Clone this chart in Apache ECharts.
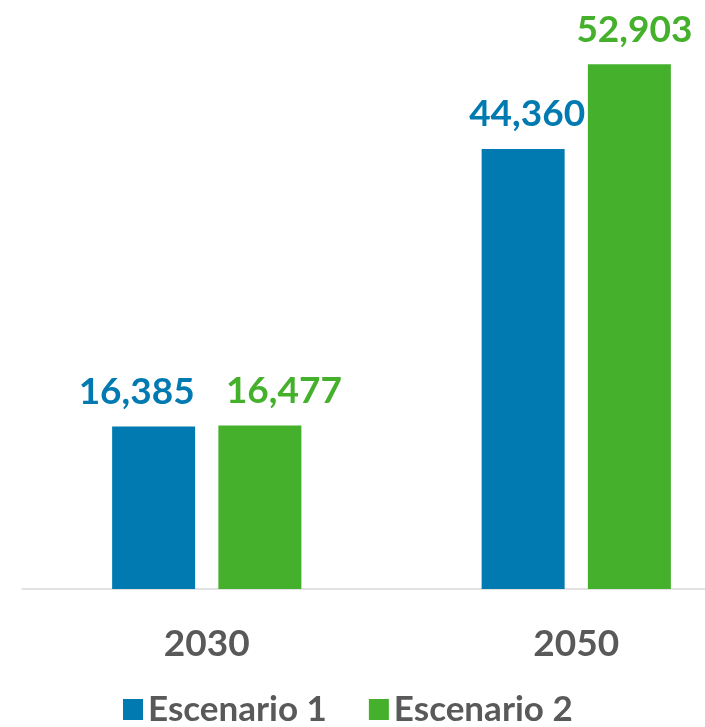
<!DOCTYPE html>
<html>
<head>
<meta charset="utf-8">
<script src="https://cdn.jsdelivr.net/npm/echarts@6/dist/echarts.min.js"></script>
<style>
    html, body { margin: 0; padding: 0; background: #fff; }
    #chart { width: 705px; height: 727px; }
</style>
</head>
<body>
<div id="chart"></div>
<script>
    var years = ['2030', '2050'];
    var seriesNames = ['Escenario 1', 'Escenario 2'];
    var esc1 = [16385, 44360];
    var esc2 = [16477, 52903];

    var chart = echarts.init(document.getElementById('chart'));
    var colors = ['#007ab0', '#45b02b'];
    // desplazamiento horizontal de etiquetas (como en el original, para que no choquen)
    var offs1 = [-17, 4];
    var offs2 = [24, 5];

    function mkData(vals, offs) {
        return vals.map(function (v, i) {
            return { value: v, label: { offset: [offs[i], 0] } };
        });
    }

    var labelStyle = {
        show: true,
        position: 'top',
        distance: 16,
        fontFamily: 'Lato',
        fontWeight: 'bold',
        fontSize: 37,
        formatter: function (p) {
            return p.value.toLocaleString('en-US');
        }
    };

    var option = {
        animation: false,
        color: colors,
        grid: {
            left: 22,
            right: -56,   // el eje sigue mas alla del borde derecho
            top: 43.5,
            bottom: 138,
            outerBoundsMode: 'none'
        },
        legend: {
            left: 118,
            top: 687,
            itemWidth: 20,
            itemHeight: 21,
            itemGap: 42,
            icon: 'rect',
            textStyle: {
                fontFamily: 'Lato',
                fontWeight: 'bold',
                fontSize: 35,
                color: '#595959'
            },
            data: seriesNames
        },
        xAxis: {
            type: 'category',
            data: years,
            axisTick: { show: false },
            axisLine: { lineStyle: { color: '#d9d9d9', width: 1.5 } },
            axisLabel: {
                margin: 37,
                fontFamily: 'Lato',
                fontWeight: 'bold',
                fontSize: 37,
                color: '#595959'
            }
        },
        yAxis: {
            type: 'value',
            min: 0,
            max: 55000,
            show: false,
            splitLine: { show: false }
        },
        series: [
            {
                name: seriesNames[0],
                type: 'bar',
                barWidth: 83,
                barGap: '28%',
                data: mkData(esc1, offs1),
                label: Object.assign({}, labelStyle, { color: colors[0] })
            },
            {
                name: seriesNames[1],
                type: 'bar',
                barWidth: 83,
                barGap: '28%',
                data: mkData(esc2, offs2),
                label: Object.assign({}, labelStyle, { color: colors[1] })
            }
        ]
    };
    chart.setOption(option);
</script>
</body>
</html>
